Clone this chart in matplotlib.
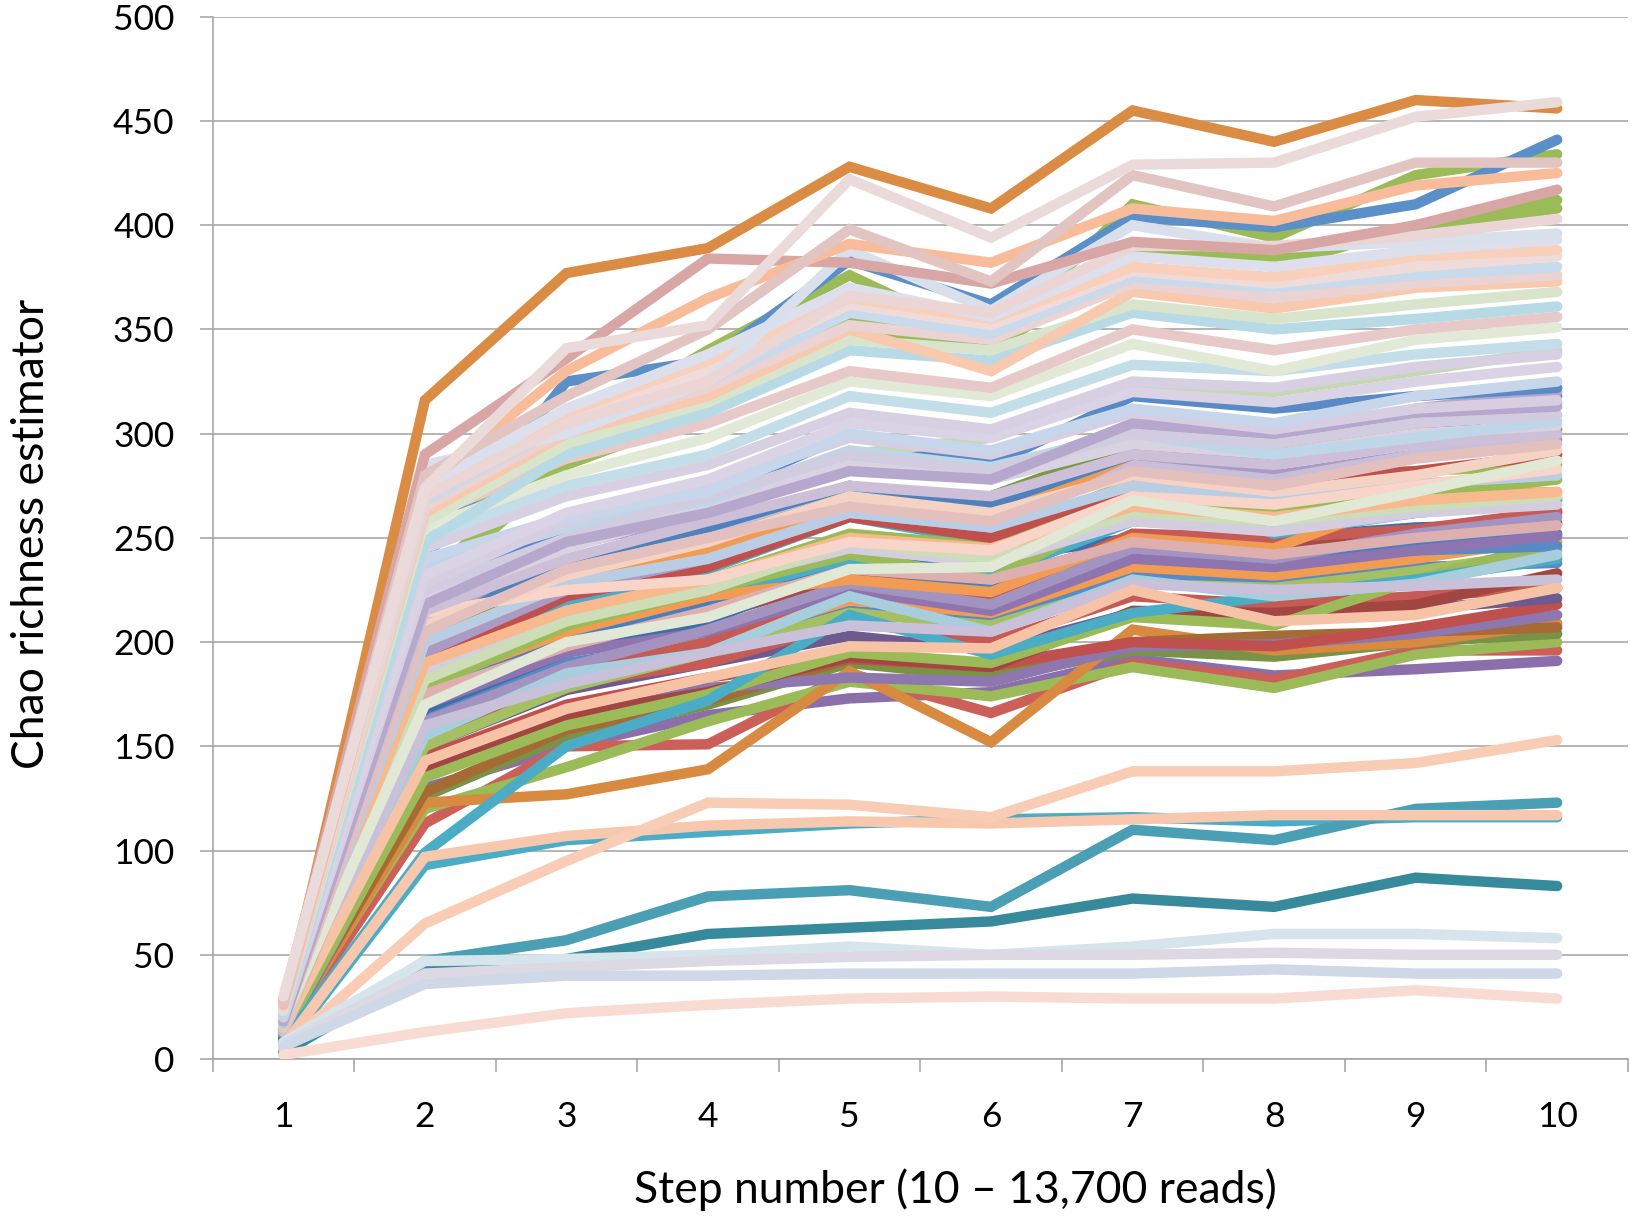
import matplotlib
matplotlib.use("Agg")
import matplotlib.pyplot as plt
from matplotlib.ticker import FixedLocator, NullFormatter

steps = [1, 2, 3, 4, 5, 6, 7, 8, 9, 10]
y_ticks = [0, 50, 100, 150, 200, 250, 300, 350, 400, 450, 500]
x_label = "Step number (10 \u2013 13,700 reads)"
y_label = "Chao richness estimator"

# saturated lines of the lower band (drawn first)
lower_band = [
    [10, 130, 150, 165, 173, 176, 192, 184, 187, 191],
    [12, 113, 150, 151, 185, 166, 190, 182, 196, 196],
    [14, 120, 140, 162, 181, 174, 188, 178, 194, 200],
    [11, 126, 155, 170, 190, 183, 196, 193, 200, 204],
    [12, 123, 127, 139, 186, 152, 206, 196, 200, 209],
    [13, 128, 158, 172, 192, 188, 200, 203, 205, 207],
    [9, 138, 163, 178, 183, 181, 198, 199, 204, 213],
    [13, 145, 170, 183, 192, 189, 200, 198, 207, 218],
    [10, 150, 177, 190, 203, 196, 214, 211, 216, 221],
    [15, 155, 180, 190, 210, 200, 222, 218, 222, 226],
    [12, 140, 165, 176, 193, 188, 215, 214, 218, 233],
    [14, 165, 190, 200, 215, 210, 233, 228, 236, 238],
    [13, 150, 178, 195, 214, 208, 228, 226, 234, 244],
    [12, 135, 160, 175, 195, 190, 212, 208, 230, 248],
    [15, 158, 186, 200, 220, 214, 236, 232, 240, 250],
    [16, 195, 215, 230, 240, 230, 245, 240, 244, 246],
    [8, 99, 150, 172, 213, 194, 214, 222, 230, 240],
]
lower_colors = ["#8B6FAB", "#CD5F59", "#9BBB59", "#7A9248", "#D88A40", "#A66A35",
                "#8E76AE", "#C0504D", "#6E5A8E", "#C65A55", "#A34642", "#5A8AC6",
                "#A5C063", "#9BBB59", "#F29B52", "#5A8AC6", "#4BACC6"]

# saturated / medium lines of the middle band
mid_band = [
    [13, 172, 200, 212, 232, 230, 248, 245, 254, 262],
    [14, 168, 195, 210, 238, 240, 250, 250, 255, 257],
    [14, 175, 202, 218, 236, 228, 246, 242, 248, 252],
    [14, 160, 185, 200, 228, 222, 252, 250, 254, 263],
    [15, 170, 195, 205, 225, 215, 240, 236, 244, 251],
    [14, 162, 188, 206, 228, 218, 245, 240, 252, 260],
    [16, 190, 220, 235, 260, 248, 275, 252, 262, 268],
    [12, 180, 205, 222, 240, 232, 258, 255, 262, 269],
    [18, 180, 205, 222, 230, 224, 250, 245, 270, 272],
    [15, 178, 208, 225, 242, 230, 265, 262, 270, 278],
    [15, 185, 212, 230, 252, 246, 278, 280, 282, 285],
    [15, 190, 222, 236, 260, 250, 275, 278, 282, 290],
    [15, 195, 225, 240, 262, 255, 285, 280, 290, 297],
    [15, 205, 236, 250, 272, 262, 285, 278, 290, 300],
    [16, 200, 232, 248, 270, 270, 295, 290, 300, 302],
    [17, 200, 228, 245, 262, 258, 290, 295, 300, 315],
    [18, 210, 240, 255, 275, 266, 290, 285, 298, 318],
    [16, 210, 246, 262, 288, 280, 304, 298, 312, 320],
    [18, 225, 255, 270, 300, 285, 318, 312, 318, 322],
    [16, 215, 250, 265, 290, 298, 322, 320, 330, 340],
    [14, 225, 285, 310, 350, 340, 385, 385, 398, 408],
    [15, 230, 290, 315, 355, 345, 390, 380, 400, 412],
    [16, 245, 300, 340, 376, 344, 410, 394, 424, 434],
    [18, 240, 325, 335, 383, 362, 404, 399, 410, 441],
    [22, 316, 377, 389, 428, 408, 455, 440, 460, 456],
]
mid_colors = ["#A64B47", "#3E6FA8", "#4A7FBF", "#C65A55", "#8F75AF", "#A393C0",
              "#4BACC6", "#4BACC6", "#F29B52", "#9BBB59", "#9BBB59", "#C0504D",
              "#A99BC6", "#C8BED8", "#7A9A45", "#F29B52", "#4F81BD", "#B3A5CB",
              "#5A8AC6", "#C5D9B0", "#9BBB59", "#9BBB59", "#9BBB59", "#5A8FC8",
              "#DA8C44"]

# low outliers in teal (drawn under the pale low lines)
teal_lows = [
    [5, 93, 105, 109, 113, 115, 116, 114, 116, 116],
    [4, 47, 57, 78, 81, 73, 110, 105, 120, 123],
    [3, 43, 48, 60, 63, 66, 77, 73, 87, 83],
]
teal_colors = ["#4BACC6", "#4A9FB4", "#378A9B"]

# pastel lines (drawn last, on top)
pastel_band = [
    [16, 155, 185, 195, 222, 205, 230, 222, 228, 242],
    [13, 160, 180, 195, 208, 205, 228, 225, 227, 230],
    [15, 143, 168, 183, 198, 197, 225, 210, 213, 226],
    [16, 175, 198, 215, 235, 230, 248, 242, 250, 256],
    [18, 185, 215, 228, 245, 238, 258, 253, 262, 266],
    [16, 182, 210, 225, 248, 240, 262, 258, 265, 270],
    [17, 190, 215, 230, 250, 245, 265, 260, 268, 272],
    [17, 200, 228, 240, 262, 255, 275, 270, 276, 280],
    [20, 214, 225, 230, 248, 244, 270, 266, 275, 283],
    [19, 170, 200, 212, 235, 236, 268, 258, 272, 287],
    [18, 208, 232, 248, 270, 262, 280, 272, 280, 292],
    [18, 205, 235, 250, 265, 258, 282, 275, 288, 295],
    [19, 215, 240, 258, 275, 270, 290, 285, 295, 300],
    [20, 220, 245, 265, 285, 278, 295, 290, 300, 304],
    [19, 235, 255, 268, 292, 284, 300, 290, 298, 306],
    [21, 225, 250, 270, 290, 282, 300, 295, 305, 309],
    [18, 218, 248, 262, 282, 278, 305, 300, 310, 313],
    [20, 228, 258, 275, 298, 290, 310, 302, 312, 316],
    [22, 240, 260, 272, 300, 292, 312, 305, 318, 325],
    [22, 232, 262, 278, 305, 298, 320, 315, 325, 332],
    [23, 245, 270, 285, 310, 302, 325, 322, 332, 338],
    [24, 250, 275, 290, 318, 310, 333, 330, 338, 343],
    [25, 255, 280, 298, 325, 318, 343, 330, 345, 351],
    [24, 260, 288, 305, 330, 322, 350, 340, 350, 356],
    [22, 248, 290, 310, 340, 335, 358, 350, 355, 361],
    [23, 258, 295, 315, 345, 340, 362, 355, 362, 368],
    [25, 262, 300, 318, 350, 330, 368, 360, 370, 373],
    [24, 265, 302, 322, 352, 345, 372, 365, 372, 376],
    [26, 268, 305, 325, 358, 348, 375, 370, 376, 380],
    [27, 270, 308, 330, 362, 352, 378, 372, 380, 385],
    [25, 272, 310, 335, 365, 355, 380, 375, 385, 388],
    [26, 275, 312, 338, 370, 356, 385, 380, 388, 393],
    [24, 285, 300, 325, 388, 359, 400, 389, 392, 396],
    [25, 270, 305, 325, 366, 358, 390, 390, 395, 403],
    [28, 290, 336, 384, 382, 372, 392, 388, 400, 417],
    [26, 276, 330, 365, 391, 382, 408, 402, 419, 425],
    [27, 280, 318, 350, 398, 373, 424, 409, 430, 430],
    [30, 274, 341, 352, 422, 394, 429, 430, 452, 459],
]
pastel_colors = ["#A8CDDD", "#C9C0DA", "#F7C3A6", "#DDAFAE", "#D4CDE0", "#CCDDB8",
                 "#F9B98E", "#B9CDE5", "#F8D5C8", "#E1E9D6", "#F5D3C4", "#E3C0BE",
                 "#CDBFD8", "#D9D2E3", "#BFD6E8", "#D2CCE0", "#B5A8CC", "#D8CEE2",
                 "#C7D6EA", "#DAD3E5", "#D6D0E2", "#C3DEE8", "#E2EAD7", "#E6C9C8",
                 "#B8DAE6", "#D9E4CC", "#F8C9AE", "#EAD3D2", "#C9DAEC", "#EFDCDA",
                 "#F8D0BC", "#DDE0EC", "#DADFEC", "#EBD5D5", "#D9A6A6", "#F8BC9A",
                 "#E2C4C3", "#EBDADA"]

# pale low lines
pale_lows = [
    [6, 97, 107, 112, 114, 113, 115, 117, 117, 117],
    [5, 65, 95, 123, 122, 116, 138, 138, 142, 153],
    [8, 47, 48, 50, 54, 50, 54, 60, 60, 58],
    [7, 41, 44, 47, 49, 50, 50, 51, 50, 50],
    [6, 36, 40, 40, 41, 41, 41, 43, 41, 41],
    [2, 13, 22, 26, 29, 30, 29, 29, 33, 29],
]
pale_colors = ["#F8C8AE", "#F9CDB5", "#D6E4EC", "#DCD8E4", "#CFD8E6", "#F8DCD3"]

plt.rcParams['font.family'] = ['Lato', 'DejaVu Sans']

fig = plt.figure(figsize=(16.34, 12.18), dpi=100)
ax = fig.add_axes([0.1301, 0.1305, 0.8662, 0.8558])

lw = 7.5
for group, colors in [(lower_band, lower_colors), (mid_band, mid_colors),
                      (teal_lows, teal_colors), (pastel_band, pastel_colors),
                      (pale_lows, pale_colors)]:
    for vals, c in zip(group, colors):
        ax.plot(steps, vals, color=c, lw=lw, solid_capstyle='round',
                solid_joinstyle='miter', zorder=3)

ax.set_xlim(0.5, 10.5)
ax.set_ylim(0, 500)
ax.set_yticks(y_ticks)
ax.yaxis.grid(True, color="#A0A0A0", linewidth=1.1, zorder=0)
ax.set_axisbelow(True)

# x: tick marks at category boundaries, labels at categories
ax.xaxis.set_major_locator(FixedLocator([s - 0.5 for s in steps] + [10.5]))
ax.xaxis.set_major_formatter(NullFormatter())
ax.xaxis.set_minor_locator(FixedLocator(steps))
ax.set_xticklabels([str(s) for s in steps], minor=True)
ax.tick_params(axis='x', which='major', length=9.5, width=1.1, color="#A0A0A0", direction='out')
ax.tick_params(axis='x', which='minor', length=0, labelsize=25.5, pad=30)
ax.tick_params(axis='y', which='major', length=9.5, width=1.1, color="#A0A0A0",
               direction='out', labelsize=25.5, pad=18)

for side in ['top', 'right']:
    ax.spines[side].set_visible(False)
for side in ['left', 'bottom']:
    ax.spines[side].set_color("#A0A0A0")
    ax.spines[side].set_linewidth(1.1)

fig.text(955 / 1634, 1 - 1190 / 1218, x_label, ha='center', va='center', fontsize=32)
fig.text(32 / 1634, 1 - 534 / 1218, y_label, ha='center', va='center', fontsize=32,
         rotation=90)

fig.savefig("out.png", dpi=100)
